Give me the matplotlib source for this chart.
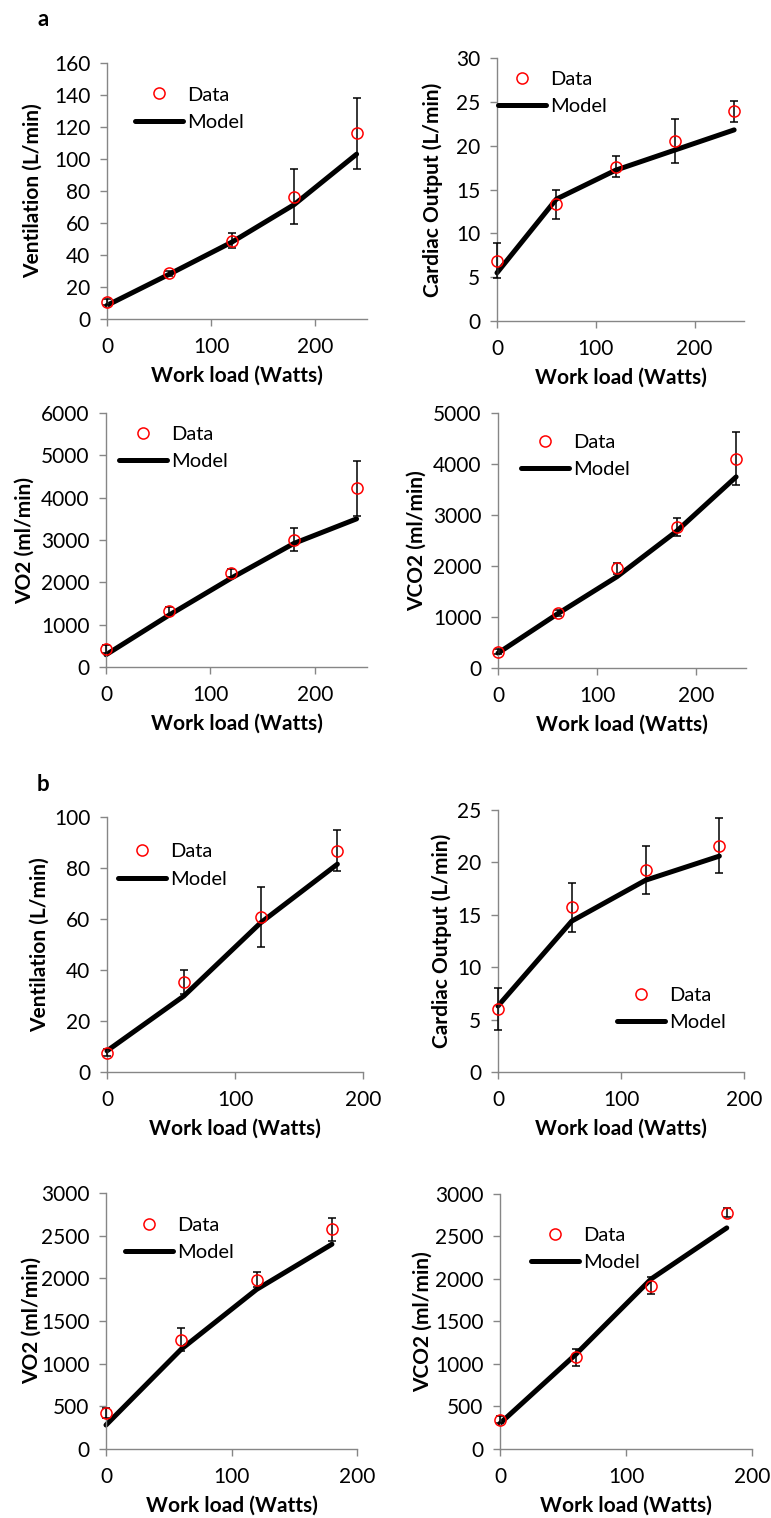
import numpy as np
import matplotlib
matplotlib.use("Agg")
import matplotlib.pyplot as plt

plt.rcParams['font.family'] = ['Lato', 'DejaVu Sans']

# work loads (Watts)
charge_a = [0, 60, 120, 180, 240]
charge_b = [0, 60, 120, 180]

# --- panel a ---
vent_a_data = [10.5, 28.5, 49, 76.5, 116]
vent_a_err = [2, 1.5, 4.5, 17, 22]
vent_a_model = [8.5, 28, 48, 71.5, 103]

co_a_data = [6.9, 13.3, 17.6, 20.5, 23.9]
co_a_err = [2, 1.7, 1.2, 2.5, 1.2]
co_a_model = [5.5, 13.9, 17.2, 19.5, 21.8]

vo2_a_data = [425, 1320, 2215, 3010, 4220]
vo2_a_err = [100, 100, 100, 270, 650]
vo2_a_model = [290, 1220, 2100, 2920, 3500]

vco2_a_data = [320, 1085, 1950, 2765, 4105]
vco2_a_err = [50, 60, 110, 170, 520]
vco2_a_model = [290, 1060, 1790, 2680, 3745]

# --- panel b ---
vent_b_data = [7.6, 35.2, 60.9, 86.8]
vent_b_err = [1.5, 4.7, 11.7, 8]
vent_b_model = [8.3, 29.8, 58.5, 81.5]

co_b_data = [6.0, 15.7, 19.3, 21.6]
co_b_err = [2, 2.3, 2.3, 2.6]
co_b_model = [6.3, 14.4, 18.3, 20.6]

vo2_b_data = [420, 1280, 1985, 2575]
vo2_b_err = [60, 135, 85, 135]
vo2_b_model = [280, 1170, 1870, 2400]

vco2_b_data = [345, 1080, 1920, 2780]
vco2_b_err = [40, 100, 100, 55]
vco2_b_model = [300, 1110, 2000, 2600]

gris = '#868686'
taille = 15

fig = plt.figure(figsize=(7.71, 15.18), dpi=100)

panneaux = [
    # position, x, data, err, model, ylabel, ymax, ystep, xmax, legend anchor, ylabel x
    ([0.1388, 0.7899, 0.3372, 0.1686], charge_a, vent_a_data, vent_a_err, vent_a_model,
     "Ventilation (L/min)", 160, 20, 250, (0.108, 0.822), -0.285),
    ([0.6446, 0.7885, 0.3204, 0.1733], charge_a, co_a_data, co_a_err, co_a_model,
     "Cardiac Output (L/min)", 30, 5, 250, (0.004, 0.867), -0.259),
    ([0.1375, 0.5606, 0.3385, 0.1673], charge_a, vo2_a_data, vo2_a_err, vo2_a_model,
     "VO2 (ml/min)", 6000, 1000, 250, (0.05, 0.864), -0.31),
    ([0.6459, 0.5600, 0.3217, 0.1680], charge_a, vco2_a_data, vco2_a_err, vco2_a_model,
     "VCO2 (ml/min)", 5000, 1000, 250, (0.093, 0.83), -0.327),
    ([0.1388, 0.2938, 0.3320, 0.1680], charge_b, vent_b_data, vent_b_err, vent_b_model,
     "Ventilation (L/min)", 100, 20, 200, (0.043, 0.81), -0.262),
    ([0.6459, 0.2938, 0.3190, 0.1726], charge_b, co_b_data, co_b_err, co_b_model,
     "Cardiac Output (L/min)", 25, 5, 200, (0.484, 0.242), -0.228),
    ([0.1375, 0.0455, 0.3256, 0.1686], charge_b, vo2_b_data, vo2_b_err, vo2_b_model,
     "VO2 (ml/min)", 3000, 500, 200, (0.076, 0.82), -0.295),
    ([0.6485, 0.0455, 0.3268, 0.1680], charge_b, vco2_b_data, vco2_b_err, vco2_b_model,
     "VCO2 (ml/min)", 3000, 500, 200, (0.123, 0.785), -0.306),
]

for pos, x, data, err, model, ylabel, ymax, ystep, xmax, leg, ylab_x in panneaux:
    ax = fig.add_axes(pos)
    ligne, = ax.plot(x, model, color='black', lw=3.6, solid_capstyle='round',
                     label='Model', zorder=2, clip_on=False)
    ax.errorbar(x, data, yerr=err, fmt='none', ecolor='black', elinewidth=1.1,
                capsize=3, capthick=1.1, zorder=3, clip_on=False)
    points, = ax.plot(x, data, 'o', mfc='none', mec='red', ms=8, mew=1.1,
                      label='Data', zorder=4, clip_on=False)

    ax.set_xlim(0, xmax)
    ax.set_ylim(0, ymax)
    ax.set_xticks([0, 100, 200])
    ax.set_yticks(np.arange(0, ymax + ystep / 2, ystep))
    for s in ['top', 'right']:
        ax.spines[s].set_visible(False)
    for s in ['left', 'bottom']:
        ax.spines[s].set_color(gris)
        ax.spines[s].set_linewidth(1.0)
    ax.tick_params(colors=gris, labelcolor='black', labelsize=taille, length=5, width=1.0)
    ax.tick_params(axis='x', pad=8)
    ax.tick_params(axis='y', pad=7)
    ax.set_xlabel("Work load (Watts)", fontsize=taille, fontweight='bold', labelpad=6)
    ax.set_ylabel(ylabel, fontsize=taille, fontweight='bold', va='center')
    ax.yaxis.set_label_coords(ylab_x, 0.5)

    ax.legend([points, ligne], ['Data', 'Model'], loc='center left', bbox_to_anchor=leg,
              frameon=False, fontsize=14.5, handlelength=2.4, handletextpad=0.2,
              labelspacing=0.5, borderpad=0, borderaxespad=0)

fig.text(0.056, 0.987, "a", fontsize=16, fontweight='bold', ha='center', va='center')
fig.text(0.056, 0.483, "b", fontsize=16, fontweight='bold', ha='center', va='center')

fig.savefig("out.png", dpi=100)
